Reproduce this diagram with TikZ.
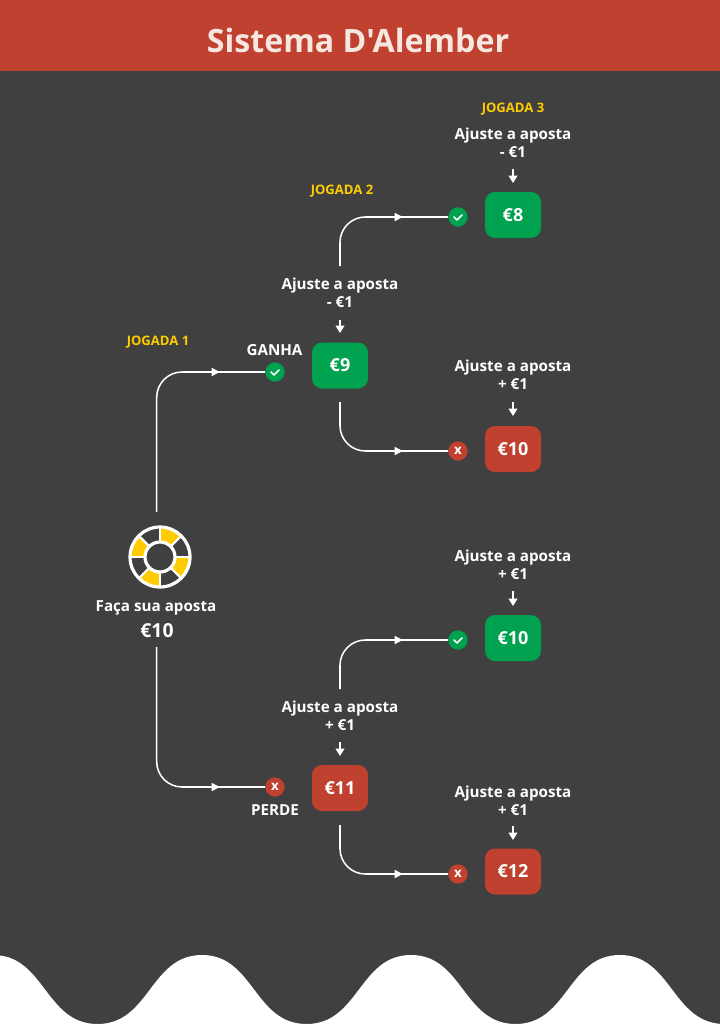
\documentclass[tikz,border=0pt]{standalone}
\usepackage{fontspec}
\setmainfont{Open Sans}[Ligatures=TeXOff]
\usetikzlibrary{decorations.markings}
\usetikzlibrary{arrows.meta}

\definecolor{bgdark}{HTML}{404040}
\definecolor{redbet}{HTML}{C0412F}
\definecolor{greenbet}{HTML}{00A14F}
\definecolor{yellowbet}{HTML}{FFCC00}
\definecolor{titlecol}{HTML}{F6E7E1}

\tikzset{
  stake/.style={shape=rectangle,rounded corners=7.5pt,minimum width=42pt,minimum height=34.5pt,
    inner sep=0pt,text=white,font=\bfseries\fontsize{13.5}{16}\selectfont},
  win/.style={stake,fill=greenbet},
  lose/.style={stake,fill=redbet},
  wincirc/.style={shape=circle,minimum size=14.5pt,inner sep=0pt,fill=greenbet},
  losecirc/.style={shape=circle,minimum size=14.5pt,inner sep=0pt,fill=redbet,
    text=white,font=\bfseries\fontsize{10}{10}\selectfont},
  adjust/.style={align=center,inner sep=0pt,text=white,
    font=\bfseries\fontsize{11.4}{13.5}\selectfont},
  round/.style={text=yellowbet,inner sep=0pt,font=\bfseries\fontsize{9.8}{11}\selectfont},
  result/.style={text=white,inner sep=0pt,font=\bfseries\fontsize{11.4}{13}\selectfont},
  flow/.style={white,line width=1.15pt,rounded corners=19pt,postaction={decorate},
    decoration={markings,mark=at position -34pt with {\arrow{Triangle[length=6pt,width=6pt]}}}},
  stub/.style={white,line width=1.15pt,-{Triangle[length=5.5pt,width=6.5pt]}}
}

\newcommand{\checkmk}[1]{\draw[white,line width=1.2pt,line cap=round,line join=round]
  ([shift={(-4,0)}]#1.center) -- ([shift={(-1,3)}]#1.center) -- ([shift={(4,-2)}]#1.center);}

\begin{document}
\begin{tikzpicture}[x=0.75pt,y=-0.75pt]
\useasboundingbox (0,0) rectangle (720,1024);
\fill[white] (0,0) rectangle (720,1024);
\fill[bgdark] (0,71) rectangle (720,1024);
\fill[redbet] (0,0) rectangle (720,71);
% bottom wave
\fill[white] (-7,1030) -- (-7,955)
  foreach \i in {0,1,2,3} {
    .. controls ({-7+\i*209+52},955) and ({-7+\i*209+52},1024) .. ({-7+\i*209+104.5},1024)
    .. controls ({-7+\i*209+157},1024) and ({-7+\i*209+157},955) .. ({-7+\i*209+209},955)
  } -- (829,1030) -- cycle;
\node[text=titlecol,font=\bfseries\fontsize{24.1}{28}\selectfont] (title) at (358,40) {Sistema D'Alember};

% chip
\begin{scope}[shift={(160,557)},yscale=-1]
  \foreach \a in {90,180,270,0} {
    \fill[yellowbet] (\a-45:16) arc[start angle=\a-45,end angle=\a,radius=16]
      -- (\a:29) arc[start angle=\a,end angle=\a-45,radius=29] -- cycle;
  }
  \foreach \a in {0,45,...,315} {
    \draw[white,line width=1.6pt] (\a:15) -- (\a:29);
  }
  \draw[white,line width=2.4pt] (0,0) circle[radius=30];
  \draw[white,line width=2.4pt] (0,0) circle[radius=15];
\end{scope}
\coordinate (chiptop) at (156.7,512);
\coordinate (chipbot) at (156.7,647);
\node[result] (place) at (156,608) {Faça sua aposta};
\node[result,font=\bfseries\fontsize{14.5}{16}\selectfont] (ten) at (157,631) {€10};

% stakes
\node[win] (b9) at (340,365.5) {€9};
\node[lose] (b11) at (340,788) {€11};
\node[win] (b8) at (513,215) {€8};
\node[lose] (b10a) at (513,449) {€10};
\node[win] (b10b) at (513,638) {€10};
\node[lose] (b12) at (513,871.5) {€12};

% circles
\node[wincirc] (c9) at (275,372) {};
\node[losecirc] (c11) at (275,787) {x};
\node[wincirc] (c8) at (458,217) {};
\node[losecirc] (c10a) at (458,451) {x};
\node[wincirc] (c10b) at (458,640) {};
\node[losecirc] (c12) at (458,874) {x};
\checkmk{c9} \checkmk{c8} \checkmk{c10b}

% texts
\node[round] (j1) at (158,342) {JOGADA 1};
\node[round] (j2) at (342,191) {JOGADA 2};
\node[round] (j3) at (513,109) {JOGADA 3};
\node[result] (ganha) at (274.5,350.5) {GANHA};
\node[result] (perde) at (275,810) {PERDE};
\node[adjust] (a3) at (513,143) {Ajuste a aposta\\- €1};
\node[adjust] (a2) at (340,293) {Ajuste a aposta\\- €1};
\node[adjust] (a4) at (513,375) {Ajuste a aposta\\+ €1};
\node[adjust] (a5) at (513,565) {Ajuste a aposta\\+ €1};
\node[adjust] (a6) at (340,716) {Ajuste a aposta\\+ €1};
\node[adjust] (a7) at (513,801) {Ajuste a aposta\\+ €1};

% adjust arrows
\coordinate (s3) at (513,169);
\coordinate (s2) at (340,320);
\coordinate (s4) at (513,402);
\coordinate (s5) at (513,591);
\coordinate (s6) at (340,742);
\coordinate (s7) at (513,826);
\coordinate (e3) at (513,183);
\coordinate (e2) at (340,333);
\coordinate (e4) at (513,416);
\coordinate (e5) at (513,606);
\coordinate (e6) at (340,756);
\coordinate (e7) at (513,840);
\foreach \s/\e in {s3/e3,s2/e2,s4/e4,s5/e5,s6/e6,s7/e7} {
  \draw[stub] (\s) -- (\e);
}

% flow lines
\coordinate (u1) at (340,266);
\coordinate (u2) at (340,689);
\coordinate (d1) at (340,402);
\coordinate (d2) at (340,825);
\draw[flow] (chiptop) |- (c9.west);
\draw[flow] (chipbot) |- (c11.west);
\draw[flow] (u1) |- (c8.west);
\draw[flow] (d1) |- (c10a.west);
\draw[flow] (u2) |- (c10b.west);
\draw[flow] (d2) |- (c12.west);
\end{tikzpicture}
\end{document}
